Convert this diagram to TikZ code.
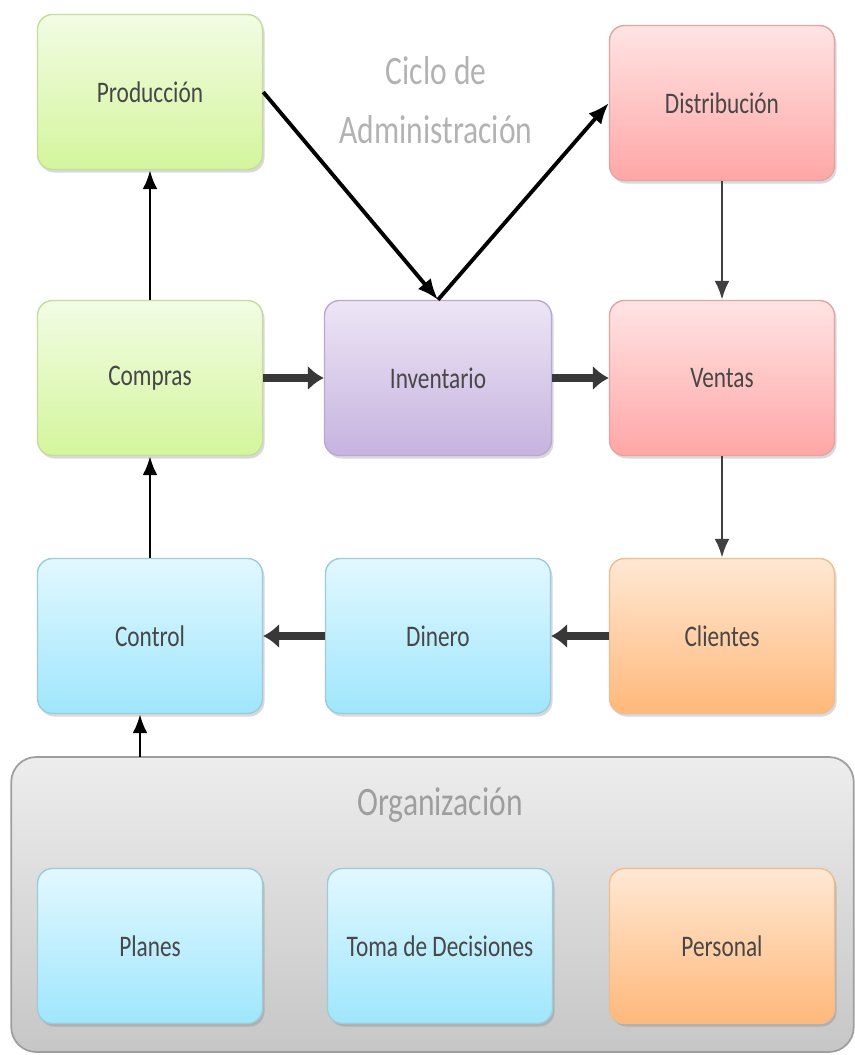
\documentclass[tikz,border=0pt]{standalone}
\usepackage{fontspec}
\setmainfont[FakeStretch=0.78]{Carlito}
\usetikzlibrary{arrows.meta,shadows}

\definecolor{greenT}{HTML}{F2FCE4}
\definecolor{greenB}{HTML}{D4F59C}
\definecolor{greenD}{HTML}{C2DE9A}
\definecolor{pinkT}{HTML}{FFE4E4}
\definecolor{pinkB}{HTML}{FFA6A6}
\definecolor{pinkD}{HTML}{E3A3A3}
\definecolor{purpT}{HTML}{EDE5F5}
\definecolor{purpB}{HTML}{C6B3DF}
\definecolor{purpD}{HTML}{B9A9D2}
\definecolor{blueT}{HTML}{E2F8FF}
\definecolor{blueB}{HTML}{9FE6FC}
\definecolor{blueD}{HTML}{9DCBDA}
\definecolor{orngT}{HTML}{FFE8D4}
\definecolor{orngB}{HTML}{FFB87A}
\definecolor{orngD}{HTML}{F0BC8C}
\definecolor{grayT}{HTML}{EDEDED}
\definecolor{grayB}{HTML}{C6C6C6}
\definecolor{grayD}{HTML}{9E9E9E}

\begin{document}
\begin{tikzpicture}[
  box/.style={draw=#1D, line width=0.8pt, rounded corners=0.3cm,
    top color=#1T, bottom color=#1B, minimum width=4.5cm, minimum height=3.1cm,
    text=black!72, font=\fontsize{17}{20}\selectfont,
    drop shadow={shadow xshift=0.04cm, shadow yshift=-0.06cm, opacity=0.25, fill=black!60}},
  group/.style={draw=grayD, line width=1pt, rounded corners=0.5cm,
    top color=grayT, bottom color=grayB, minimum width=16.85cm, minimum height=5.9cm},
  heading/.style={align=center, text=black!30, font=\fontsize{23}{34}\selectfont},
  thinarr/.style={-{Latex[length=0.38cm,width=0.3cm]}, line width=1.6pt},
  diagarr/.style={-{Latex[length=0.42cm,width=0.34cm]}, line width=2.2pt},
  thickarr/.style={-{Latex[length=0.32cm,width=0.5cm]}, line width=4pt, black!78},
]
  \useasboundingbox (0,0) rectangle (17.1,-21.1);

  \node[group] (org) at (8.65,-18.09) {};
  \node[heading, text=black!38] (org-title) at (8.8,-16.1) {Organización};
  \node[heading] (title) at (8.72,-2.0) {Ciclo de\\Administración};

  \node[box=green] (prod) at (3.0,-1.84) {Producción};
  \node[box=pink] (dist) at (14.44,-2.06) {Distribución};
  \node[box=green] (comp) at (3.0,-7.56) {Compras};
  \node[box=purp, minimum width=4.54cm] (inv) at (8.76,-7.56) {Inventario};
  \node[box=pink] (vent) at (14.44,-7.56) {Ventas};
  \node[box=blue] (ctrl) at (3.0,-12.72) {Control};
  \node[box=blue] (dine) at (8.76,-12.72) {Dinero};
  \node[box=orng] (clie) at (14.44,-12.72) {Clientes};
  \node[box=blue] (plan) at (3.0,-18.92) {Planes};
  \node[box=blue] (toma) at (8.8,-18.92) {Toma de Decisiones};
  \node[box=orng] (pers) at (14.44,-18.92) {Personal};

  \draw[thinarr] (comp) -- (prod);
  \draw[thinarr] (ctrl) -- (comp);
  \draw[thinarr, black!75] (dist) -- (vent);
  \draw[thinarr, black!75] (vent) -- (clie);
  \draw[diagarr] (prod.east) -- (inv.north);
  \draw[diagarr] (inv.north) -- (dist.west);
  \draw[thickarr] (comp) -- (inv);
  \draw[thickarr] (inv) -- (vent);
  \draw[thickarr] (clie) -- (dine);
  \draw[thickarr] (dine) -- (ctrl);
  \coordinate (org-top) at (2.8,-15.14);
  \draw[thinarr] (org-top) -- (org-top |- ctrl.south);
\end{tikzpicture}
\end{document}
